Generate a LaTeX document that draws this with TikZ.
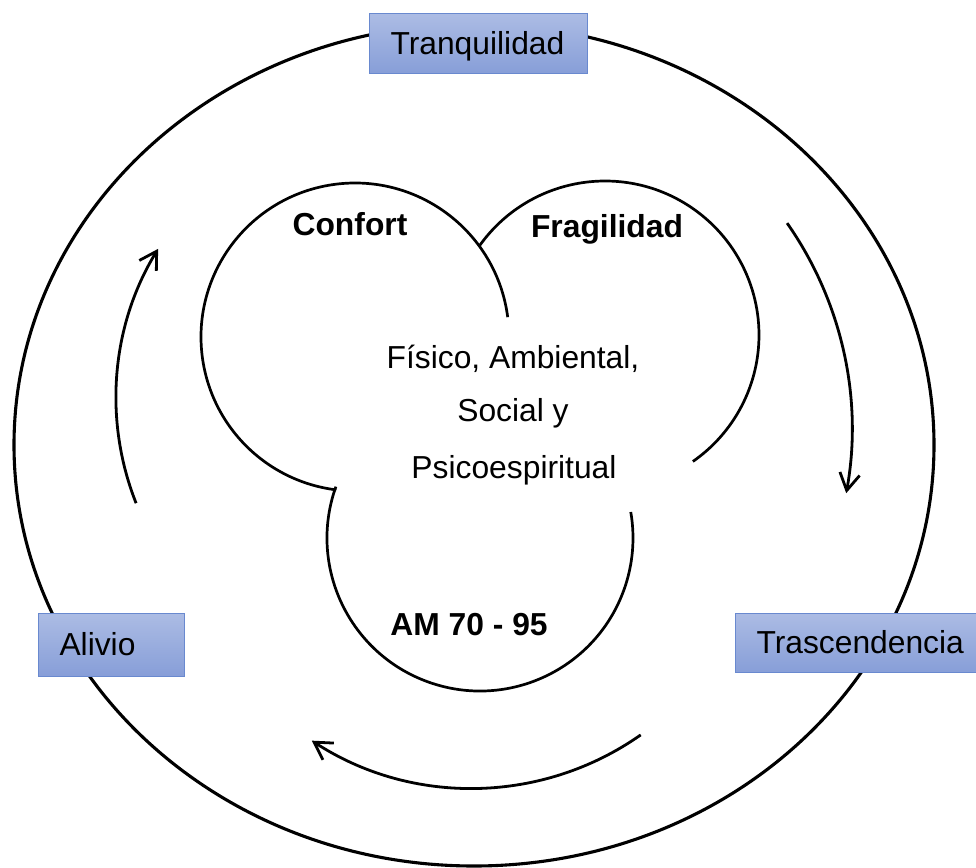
\documentclass[tikz,border=0pt]{standalone}
\usepackage{fontspec}
\setmainfont{Liberation Sans}
\usetikzlibrary{arrows.meta}
\definecolor{boxtop}{RGB}{172,188,228}
\definecolor{boxbot}{RGB}{135,158,216}
\definecolor{boxline}{RGB}{105,137,207}
\begin{document}
\begin{tikzpicture}[x=1pt,y=-1pt,
  lbl/.style={font=\fontsize{31.8pt}{38pt}\selectfont, inner sep=0pt, anchor=base},
  blbl/.style={lbl, font=\fontsize{31.8pt}{38pt}\selectfont\bfseries},
  lobe/.style={line width=2.7pt},
  ring/.style={line width=3.1pt},
  cyc/.style={line width=2.8pt, -{Straight Barb[length=17pt,width=20pt]}},
  stagebox/.style={draw=boxline, line width=1pt, top color=boxtop, bottom color=boxbot,
    minimum height=59pt, inner xsep=21.5pt, inner ysep=0pt, text height=22.7pt,
    text depth=0pt, align=left, font=\fontsize{31.8pt}{38pt}\selectfont}]
\useasboundingbox (0,0) rectangle (976,867);
\clip (0,0) rectangle (976,867);
\fill[white] (0,0) rectangle (976,867);

% outer cycle
\draw[ring] (474,445) ellipse [x radius=460, y radius=421];

% three lobes
\coordinate (cC) at (355,337);
\coordinate (cF) at (605,335);
\coordinate (cA) at (480,538);
\draw[lobe] (cC) ++(-7.4:154) arc[start angle=-7.4, end angle=-263, radius=154];
\draw[lobe] (cF) ++(-144.7:154) arc[start angle=-144.7, end angle=55.2, radius=154];
\draw[lobe] (cA) ++(199.6:153) arc[start angle=199.6, end angle=-9.8, radius=153];

% cycle arrows
\coordinate (la) at (136.1,503.2);
\coordinate (ra) at (787.1,223.1);
\coordinate (ba) at (640.7,734.9);
\draw[cyc] (la) arc[start angle=158.4, end angle=211.5, radius=285.6];
\draw[cyc] (ra) arc[start angle=-35, end angle=10.3, radius=359];
\draw[cyc] (ba) arc[start angle=54.9, end angle=123.1, radius=293.4];

% texts
\node[blbl] (confort) at (350,235) {Confort};
\node[blbl] (fragil) at (607,237) {Fragilidad};
\node[lbl] (d1) at (513,368.3) {Físico, Ambiental,};
\node[lbl] (d2) at (513,421.7) {Social y};
\node[lbl] (d3) at (514,478.3) {Psicoespiritual};
\node[blbl] (am) at (469,635) {AM 70 - 95};

% boxes
\node[stagebox, text width=175pt] (tranq) at (478,43.5) {Tranquilidad};
\node[stagebox, text width=103pt, minimum height=63pt] (alivio) at (111,644.5) {Alivio};
\node[stagebox, text width=212pt] (trasc) at (862.5,642.5) {Trascendencia};
\end{tikzpicture}
\end{document}
